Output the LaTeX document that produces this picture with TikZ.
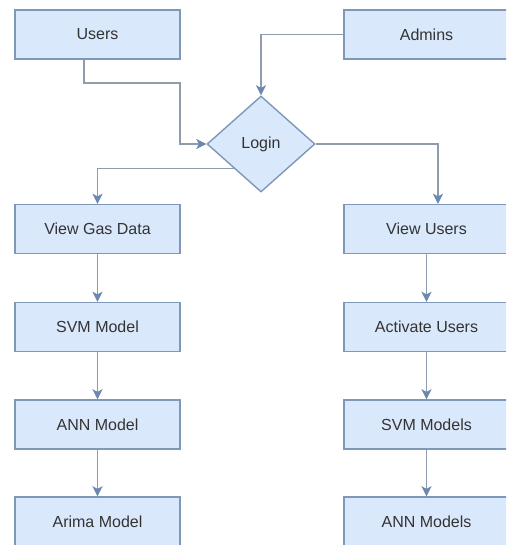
\documentclass[tikz,border=0pt]{standalone}
\usepackage{fontspec}
\setmainfont{Liberation Sans}
\usetikzlibrary{arrows.meta,shapes.geometric,calc}
\definecolor{boxfill}{HTML}{DAE8FC}
\definecolor{boxdraw}{HTML}{7F97B8}
\definecolor{linecol}{HTML}{8E9CAC}
\definecolor{headcol}{HTML}{6A88B0}
\definecolor{txtcol}{HTML}{333333}
\tikzset{
  flowbox/.style={draw=boxdraw, fill=boxfill, line width=1.4pt, minimum width=165pt, minimum height=49pt, inner sep=0pt, text=txtcol, font=\fontsize{16}{19}\selectfont},
  decbox/.style={draw=boxdraw, fill=boxfill, line width=1.4pt, diamond, minimum width=108pt, minimum height=96pt, inner sep=0pt, text=txtcol, font=\fontsize{16}{19}\selectfont},
  conn/.style={draw=linecol, line width=1.6pt, -{Stealth[length=10pt,width=10pt,inset=2.5pt,color=headcol]}},
}
\begin{document}
\begin{tikzpicture}[x=1pt,y=-1pt]
\useasboundingbox (0,0) rectangle (506,545);
\clip (0,0) rectangle (506,545);
\node[flowbox] (users) at (97.5,34.5) {Users};
\node[flowbox] (admins) at (426.5,34.5) {Admins};
\node[decbox] (login) at (261,144) {Login};
\node[flowbox] (vgd) at (97.5,229) {View Gas Data};
\node[flowbox] (svm) at (97.5,327) {SVM Model};
\node[flowbox] (ann) at (97.5,424.5) {ANN Model};
\node[flowbox] (arima) at (97.5,521.5) {Arima Model};
\node[flowbox] (vu) at (426.5,229) {View Users};
\node[flowbox] (act) at (426.5,327) {Activate Users};
\node[flowbox] (svms) at (426.5,424.5) {SVM Models};
\node[flowbox] (anns) at (426.5,521.5) {ANN Models};
\coordinate (lsw) at ($(login.west)!0.5!(login.south)$);
\draw[conn] (users.south -| 84,0) |- (180,83) |- (login.west);
\draw[conn] (admins.west) -| (login.north);
\draw[conn] (lsw) -| (vgd.north);
\draw[conn] (login.east) -| (vu.north -| 438,0);
\draw[conn] (vgd) -- (svm);
\draw[conn] (svm) -- (ann);
\draw[conn] (ann) -- (arima);
\draw[conn] (vu) -- (act);
\draw[conn] (act) -- (svms);
\draw[conn] (svms) -- (anns);
\end{tikzpicture}
\end{document}
